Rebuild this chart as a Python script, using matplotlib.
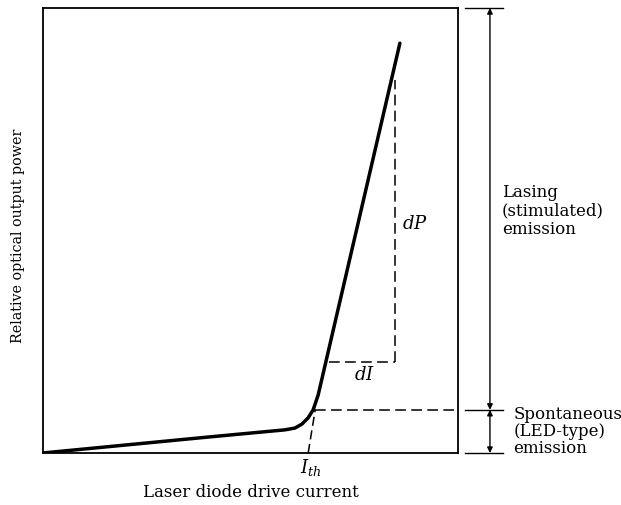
import numpy as np
import matplotlib.pyplot as plt

plt.rcParams['font.family'] = ['DejaVu Serif']
plt.rcParams['mathtext.fontset'] = 'dejavuserif'

# laser diode P-I curve (relative units)
current = [0, 20, 40, 58.3, 60.7, 62.4, 63.9, 65.1, 66.3, 86.0]
power = [0, 1.8, 3.6, 5.2, 5.6, 6.5, 7.9, 9.7, 13.0, 92.1]

i_th = 63.9          # threshold current
p_th = 9.7           # power level at end of spontaneous region
di_start, di_end = 68.9, 84.8
dp_low, dp_high = 20.5, 83.8

fig = plt.figure(figsize=(6.21, 5.05), dpi=100)
ax = fig.add_axes([0.0692, 0.103, 0.6683, 0.881])

ax.plot(current, power, color='black', lw=2.5, solid_capstyle='round', zorder=3)

# tangent extension down to threshold
ax.plot([i_th, 65.6], [0, p_th], color='black', lw=1.1, dashes=(6, 3))
# threshold level
ax.plot([65.6, 100], [p_th, p_th], color='black', lw=1.1, dashes=(7, 3.5))
# dI and dP
ax.plot([di_start, di_end], [dp_low, dp_low], color='black', lw=1.1, dashes=(7, 3.5))
ax.plot([di_end, di_end], [dp_low, dp_high], color='black', lw=1.1, dashes=(7, 3.5))

ax.text(77.5, 17.5, r'$dI$', fontsize=13, ha='center', va='center')
ax.text(86.5, 51.5, r'$dP$', fontsize=13, ha='left', va='center')
ax.text(i_th + 0.5, -0.9, r'$I_{th}$', fontsize=13, ha='center', va='top')

ax.set_xlim(0, 100)
ax.set_ylim(0, 100)
ax.set_xticks([])
ax.set_yticks([])
for s in ax.spines.values():
    s.set_linewidth(1.3)

ax.set_xlabel('Laser diode drive current', fontsize=12, labelpad=22)
ax.set_ylabel('Relative optical output power', fontsize=10.3)
ax.yaxis.set_label_coords(-0.043, 0.488)

# right side brackets
xa = 107.7
for yv in [100, p_th, 0]:
    ax.plot([101.7, 110.8], [yv, yv], color='black', lw=1, clip_on=False)
arrow = dict(arrowstyle='<|-|>', color='black', lw=1, mutation_scale=8,
             shrinkA=0, shrinkB=0)
ax.annotate('', xy=(xa, 100), xytext=(xa, p_th), arrowprops=arrow,
            annotation_clip=False)
ax.annotate('', xy=(xa, p_th), xytext=(xa, 0), arrowprops=arrow,
            annotation_clip=False)

ax.text(110.6, 54.4, 'Lasing\n(stimulated)\nemission', fontsize=12,
        ha='left', va='center', linespacing=1.15)
ax.text(113.3, 4.9, 'Spontaneous\n(LED-type)\nemission', fontsize=12,
        ha='left', va='center', linespacing=1.0)

fig.savefig('out.png', dpi=100)
